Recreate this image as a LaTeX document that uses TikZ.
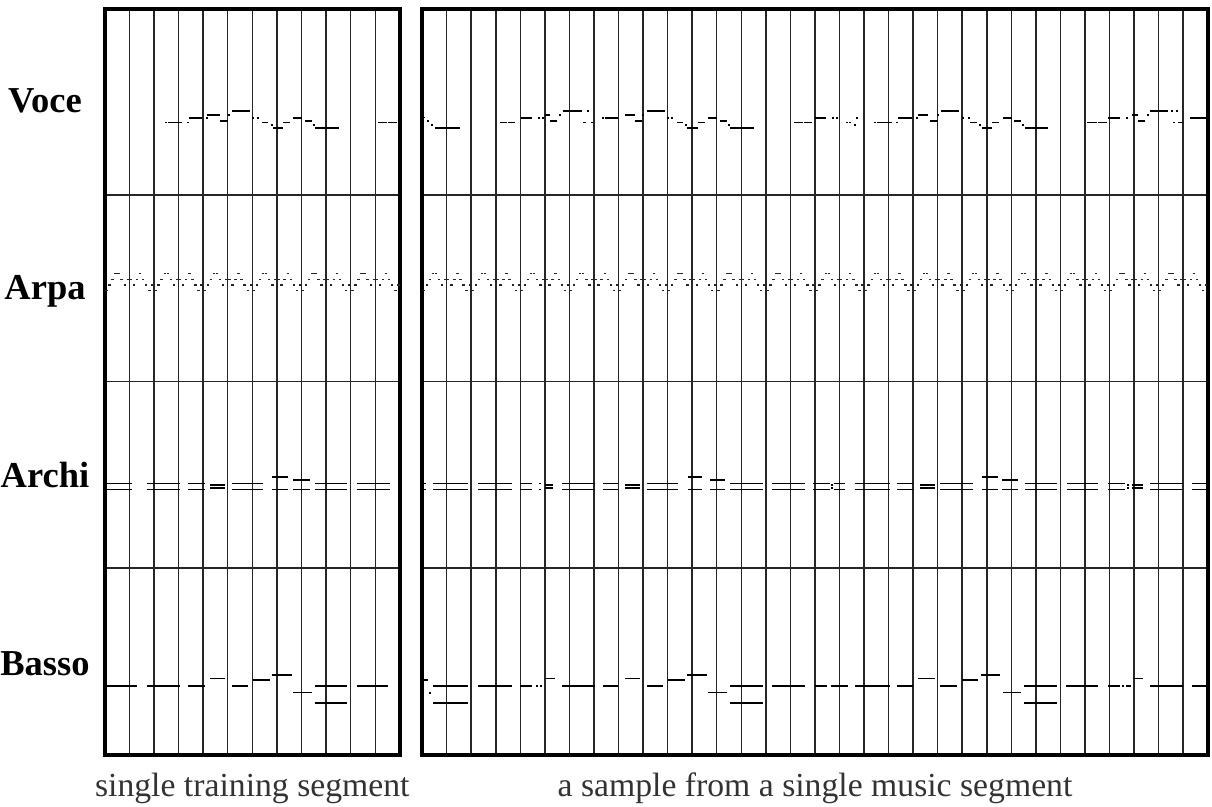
\documentclass[tikz,border=0pt]{standalone}
\usepackage{fontspec}
\setmainfont{Liberation Serif}
\begin{document}
\begin{tikzpicture}[x=1pt,y=-1pt,
  gridline/.style={draw=black!85,line width=1.5pt},
  frame/.style={draw=black,line width=4pt},
  note/.style={draw=black,line width=1.6pt},
  harp/.style={draw=black!85,line width=1.2pt},
  part/.style={font=\fontsize{36.5}{40}\selectfont\bfseries,anchor=base,inner sep=0pt},
  caption/.style={font=\fontsize{33.7}{38}\selectfont,text=black!80,anchor=base,inner sep=0pt}
]
\useasboundingbox (0,0) rectangle (1212,806);
% two piano-roll panels
\foreach \px/\w/\nc in {104.7/24.6/11, 422.1/24.55/31} {
  \foreach \k in {1,...,\nc} \draw[gridline] ({\px+\w*\k},8.7) -- ++(0,746);
  \foreach \r in {1,2,3} \draw[gridline] (\px,{8.7+186.5*\r}) -- ++({\w*(\nc+1)},0);
  \draw[frame] (\px,8.7) rectangle ++({\w*(\nc+1)},746);
  \foreach \col in {0,...,\nc} {
    \ifodd\col \def\seq{0/2,1/1,2/2,3/3,4/2,5/1,6/0,7/1}\else \def\seq{0/0,1/1,2/2,3/3,4/3,5/2,6/1,7/2}\fi
    \foreach \s/\l in \seq \draw[harp] ({\px+\col*\w+\s*\w/8+0.4},{290.7-5.8*\l}) -- ++(2.4,0);
  }
}
% voce
\foreach \a/\b/\y in {165/167/122.3, 168/181.7/122.3, 186.5/188.5/122.3, 189/201.7/118, 206/208/118,
  206.7/220/115, 220/227.7/120.7, 227.5/229.5/115, 231.7/250/110.7, 251.5/253.5/118, 257/259/118,
  261.7/268.3/122.3, 270.5/272.5/125, 273.3/282.7/128, 283.3/290/122.3, 293.3/301.7/118,
  305/311.7/120.7, 312.5/314.5/125, 315/339.3/128, 378.3/386.7/122.3, 388/396.7/122.3,
  422.5/424.5/117.3, 427/429/120.7, 431/433/125, 435/460/128, 500/507/122.3, 508/515/122.3,
  521/531.7/118, 538/540/118, 542/544/118, 545/550/115, 550/557/120.7, 559/561/115, 563/581.7/110.7,
  583/586/122.3, 587/589/110.7, 591/593/122.3, 602/604/118, 605/618/118, 625/635/115, 635/642/120.7,
  642/644/115, 647/665/110.7, 667/669/118, 671/673/118, 677/683/122.3, 685/687/125, 687/698/128,
  698/705/122.3, 708/717/118, 720/727/120.7, 728/730/125, 730/754/128, 794/803/122.3, 804/812/122.3,
  815/826/118, 832/834/118, 835.5/837.5/118, 846/848/122.3, 849/851/122.3, 854/856/125, 856/858/118,
  874/876/122.3, 877/892/122.3, 896/898/122.3, 898/912/118, 916/918/118, 918/928/115, 930/938/120.7,
  937/939/115, 941/959/110.7, 962/964/118, 968/970/118, 970/977/122.3, 979/981/125, 982/992/128,
  992/999/122.3, 1003/1012/118, 1014/1021/120.7, 1022/1024/125, 1025/1048/128, 1087/1097/122.3,
  1098/1107/122.3, 1108/1120/118, 1126/1128/118, 1132/1138/115, 1138/1145/120.7, 1147/1149/115,
  1150/1168/110.7, 1171/1173/110.7, 1176/1178/110.7, 1173/1175/122.3, 1178/1183/122.3, 1190/1206/118}
  \draw[note] (\a,\y) -- (\b,\y);
% archi
\foreach \a/\b/\y/\z in {105/131.7/483.3/489.3, 146.7/180/483.3/489.3, 188/205/483.3/489.3,
  210/225/484.8/488, 231.7/263.3/483.3/489.3, 271.7/288.3/476.7/489.3, 293/310/480/489.3,
  315/346.7/483.3/489.3, 356.7/390/483.3/489.3,
  423/426/483.3/489.3, 433/468/483.3/489.3, 478/512/483.3/489.3, 520/532/483.3/489.3,
  539/541/483.3/489.3, 545/553/484.8/488, 562/595/483.3/489.3, 603/618/483.3/489.3,
  625/640/484.8/488, 647/678/483.3/489.3, 688/702/476.7/489.3, 710/725/480/489.3,
  730/763/483.3/489.3, 772/805/483.3/489.3, 813/830/483.3/489.3, 831/833/484.8/488,
  834/845/483.3/489.3, 855/890/483.3/489.3, 897/913/483.3/489.3, 920/935/484.8/488,
  940/973/483.3/489.3, 982/998/476.7/489.3, 1002/1018/480/489.3, 1025/1057/483.3/489.3,
  1067/1098/483.3/489.3, 1108/1125/483.3/489.3, 1127/1129/484.8/488, 1132/1143/484.8/488,
  1150/1183/483.3/489.3, 1192/1206/483.3/489.3}
  {\draw[note] (\a,\y) -- (\b,\y); \draw[note] (\a,\z) -- (\b,\z);}
% basso
\foreach \a/\b/\y in {105/136.7/685.7, 146.7/180/685.7, 188/205/685.7, 210/225/678.3,
  231.7/248.3/685.7, 252.7/270/680, 271.7/291.7/675, 293.3/311.7/692.3, 315/346.7/685.7,
  315/346.7/702.7, 356.7/388.3/685.7,
  422/428/680, 429/431/693, 433/468/685.7, 433/468/702.7, 478/512/685.7, 520/532/685.7,
  536/538/685.7, 540/542/685.7, 545/555/678.3, 562/595/685.7, 603/618/685.7, 625/640/678.3,
  647/663/685.7, 668/685/680, 687/707/675, 708/727/692.3, 730/763/685.7, 730/763/702.7,
  772/805/685.7, 815/827/685.7, 831/833/685.7, 833/848/685.7, 855/890/685.7, 897/913/685.7,
  918/935/678.3, 940/957/685.7, 962/978/680, 981/1000/675, 1003/1021/692.3, 1024/1057/685.7,
  1024/1057/702.7, 1066/1098/685.7, 1108/1120/685.7, 1122/1124/685.7, 1126/1131/685.7,
  1133/1143/678.3, 1150/1183/685.7, 1192/1206/685.7}
  \draw[note] (\a,\y) -- (\b,\y);
\node[part] (voce) at (45,112) {Voce};
\node[part] (arpa) at (45,299) {Arpa};
\node[part] (archi) at (45,487) {Archi};
\node[part] (basso) at (45,675) {Basso};
\node[caption] (train) at (252.3,796) {single training segment};
\node[caption] (sample) at (815,796) {a sample from a single music segment};
\end{tikzpicture}
\end{document}
